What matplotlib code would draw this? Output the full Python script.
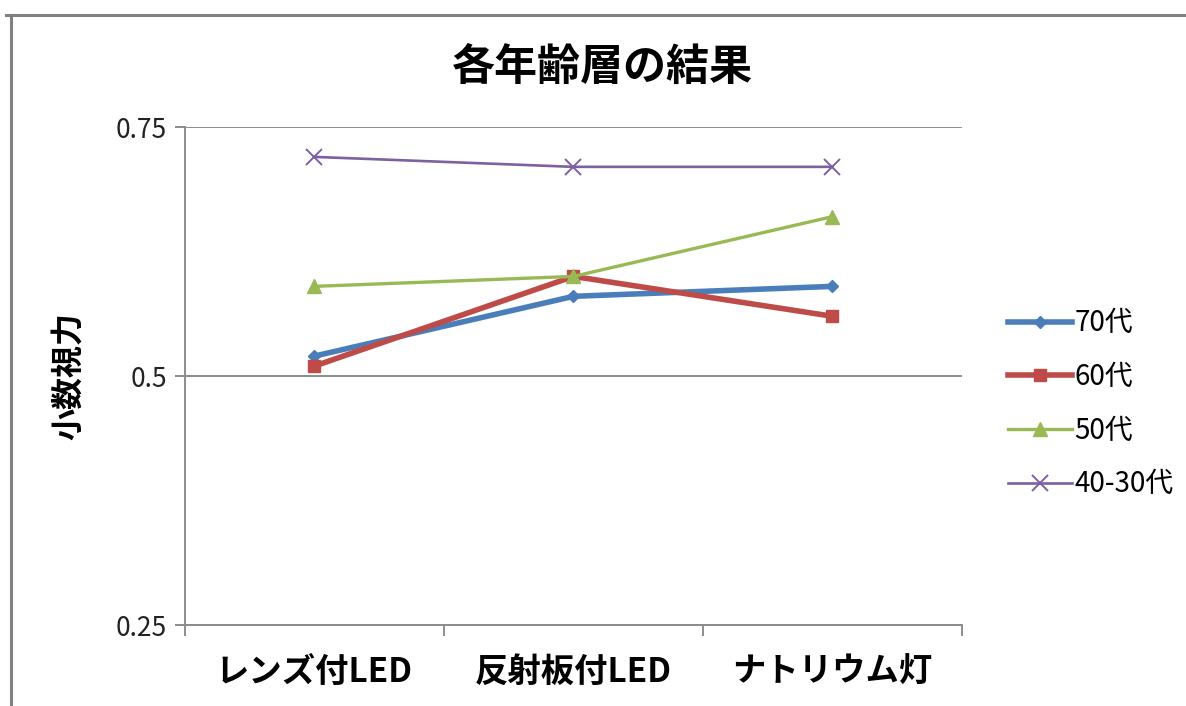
import matplotlib

matplotlib.use("Agg")
import matplotlib.pyplot as plt
from matplotlib.lines import Line2D

plt.rcParams["font.family"] = ["Noto Sans CJK JP", "DejaVu Sans"]

# data
categories = ["レンズ付LED", "反射板付LED", "ナトリウム灯"]
age_groups = ["70代", "60代", "50代", "40-30代"]
vision_70s = [0.52, 0.58, 0.59]
vision_60s = [0.51, 0.60, 0.56]
vision_50s = [0.59, 0.60, 0.66]
vision_40_30s = [0.72, 0.71, 0.71]
y_ticks = [0.25, 0.5, 0.75]

series = [vision_70s, vision_60s, vision_50s, vision_40_30s]
styles = [
    dict(color="#4A7EBB", lw=4.0, marker="D", ms=6),
    dict(color="#BE4B48", lw=4.0, marker="s", ms=8),
    dict(color="#98B954", lw=2.4, marker="^", ms=10),
    dict(color="#7D60A0", lw=1.9, marker="x", ms=12, mew=1.4),
]

fig = plt.figure(figsize=(11.86, 7.06), dpi=100)
ax = fig.add_axes([0.156, 0.1147, 0.655, 0.7054])

x = list(range(len(categories)))
for label, values, st in zip(age_groups, series, styles):
    ax.plot(x, values, label=label, zorder=3, **st)

ax.set_xlim(-0.5, len(categories) - 0.5)
ax.set_ylim(0.25, 0.75)
ax.set_yticks(y_ticks)
ax.set_yticklabels(["0.25", "0.5", "0.75"])
ax.yaxis.grid(True, color="#8C8C8C", lw=1.4)
ax.set_axisbelow(True)

# category labels centred, ticks on boundaries
ax.set_xticks([i - 0.5 for i in range(len(categories) + 1)])
ax.set_xticklabels([])
ax.set_xticks(x, minor=True)
ax.set_xticklabels(categories, minor=True, fontsize=24, fontweight="bold")
ax.tick_params(axis="x", which="minor", length=0, pad=22)
ax.tick_params(axis="x", which="major", length=8, width=1.4, color="#8C8C8C")
ax.tick_params(axis="y", length=7, width=1.4, color="#8C8C8C", labelsize=19,
               pad=6, labelcolor="#222222")

for side in ["top", "right"]:
    ax.spines[side].set_visible(False)
for side in ["left", "bottom"]:
    ax.spines[side].set_color("#8C8C8C")
    ax.spines[side].set_linewidth(1.4)

ax.set_ylabel("小数視力", fontsize=23, fontweight="bold", labelpad=22)
fig.text(0.508, 0.905, "各年齢層の結果", ha="center", va="center",
         fontsize=31, fontweight="bold")

fig.legend(loc="center left", bbox_to_anchor=(0.838, 0.428), frameon=False,
           fontsize=20, handlelength=2.3, handletextpad=0.1, labelspacing=0.85,
           borderpad=0)

# outer chart border
fig.add_artist(Line2D([0.005, 1.0], [0.979, 0.979], color="#808080", lw=2.2))
fig.add_artist(Line2D([0.009, 0.009], [0.0, 0.979], color="#808080", lw=2.2))

fig.savefig("out.png", dpi=100)
